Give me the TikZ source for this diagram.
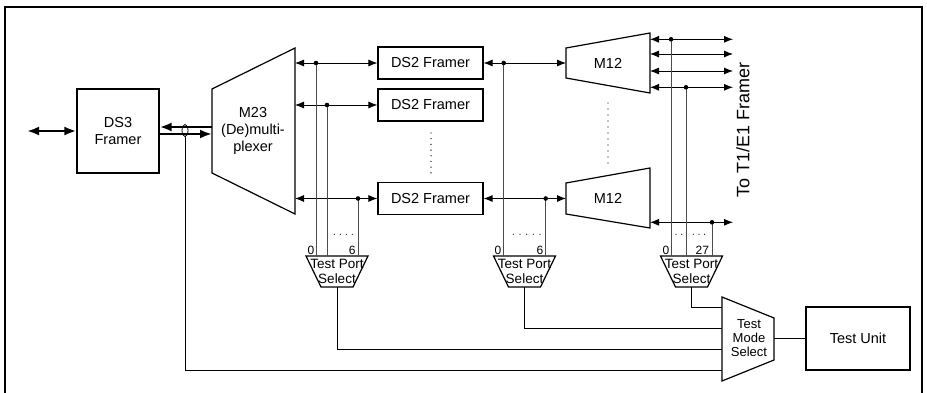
\documentclass[tikz,border=0pt]{standalone}
\usepackage{fontspec}
\setmainfont{Liberation Sans}
\usetikzlibrary{arrows.meta}

\tikzset{
  blk/.style={draw, line width=1.2pt, inner sep=0pt, align=center,
    font=\fontsize{14.5}{17}\selectfont},
  lnk/.style={line width=0.8pt},
  dbl/.style={lnk, {Latex[length=9pt,width=7pt]}-{Latex[length=9pt,width=7pt]}},
  fat/.style={line width=2.4pt},
  fattip/.style={-{Latex[length=12pt,width=9pt]}},
  tap/.style={line width=0.8pt, black!70},
  selfont/.style={align=center, inner sep=0pt, font=\fontsize{13.5}{14.4}\selectfont},
  num/.style={anchor=base, inner sep=0pt, font=\fontsize{12}{12}\selectfont},
}

\begin{document}
\begin{tikzpicture}[x=1pt,y=-1pt]
  \useasboundingbox (0,0) rectangle (927,393);

  \draw[line width=1.5pt] (5,393) -- (5,7) -- (922,7) -- (922,393);

  % boxes
  \node[blk, minimum width=82pt, minimum height=84pt] (ds3) at (118,131) {DS3\\Framer};
  \node[blk, minimum width=105pt, minimum height=32pt] (ds2a) at (430.5,63) {DS2 Framer};
  \node[blk, minimum width=105pt, minimum height=32pt] (ds2b) at (430.5,105) {DS2 Framer};
  \node[blk, minimum width=105pt, minimum height=32pt] (ds2c) at (430.5,198.5) {DS2 Framer};
  \node[blk, minimum width=104pt, minimum height=63pt] (tu) at (858,338.5) {Test Unit};

  % multiplexers
  \draw[line width=1.2pt] (212,89) coordinate (m23a) -- (295,48) coordinate (m23b)
    -- (295,214) -- (212,173) -- cycle;
  \node[blk, draw=none] (m23) at (253,131) {M23\\(De)multi-\\plexer};

  \draw[line width=1.2pt] (566,48) coordinate (m12a) -- (650,33) coordinate (m12ar)
    -- (650,93) -- (566,78) -- cycle;
  \node[blk, draw=none] (m12top) at (608,63) {M12};
  \draw[line width=1.2pt] (566,183) coordinate (m12b) -- (650,168) coordinate (m12br)
    -- (650,228) -- (566,214) -- cycle;
  \node[blk, draw=none] (m12bot) at (608,198) {M12};

  % test port selects
  \foreach \n/\cx in {1/337, 2/524.5, 3/691.5} {
    \draw[line width=1.2pt] (\cx-31,256) coordinate (tps\n) -- (\cx+31,256)
      -- (\cx+16,287) -- (\cx-16,287) -- cycle;
    \coordinate (tpsout\n) at (\cx,287);
    \node[selfont] (tpslbl\n) at (\cx,271.5) {Test Port\\Select};
  }

  \draw[line width=1.2pt] (722,297) coordinate (tms) -- (774,318) -- (774,360)
    -- (722,381) -- cycle;
  \coordinate (tmsout) at (774,338.5);
  \node[align=center, inner sep=0pt, font=\fontsize{13}{14}\selectfont] (tmslbl)
    at (749,338) {Test\\Mode\\Select};

  % DS3 side
  \draw[fat, {Latex[length=12pt,width=9pt]}-{Latex[length=12pt,width=9pt]}] (27,131) -- (ds3.west);
  \draw[fat, fattip] (m23a |- 0,127) -- (ds3.east |- 0,127);
  \draw[fat, fattip] (ds3.east |- 0,134) -- (m23a |- 0,134);
  \draw[lnk] (185,130.5) ellipse [x radius=3pt, y radius=6pt];
  \coordinate (bnd) at (185,136.5);

  % M23 to DS2 to M12
  \draw[dbl] (ds2a.west -| m23b) -- (ds2a.west);
  \draw[dbl] (ds2b.west -| m23b) -- (ds2b.west);
  \draw[dbl] (ds2c.west -| m23b) -- (ds2c.west);
  \draw[dbl] (ds2a.east) -- (ds2a.east -| m12a);
  \draw[dbl] (ds2c.east) -- (ds2c.east -| m12b);

  % to T1/E1
  \foreach \y in {39.3, 54, 71, 87.3}
    \draw[dbl] (m12ar |- 0,\y) -- (733,\y);
  \draw[dbl] (m12br |- 0,222.3) -- (733,222.3);
  \node[rotate=90, inner sep=0pt, font=\fontsize{18}{20}\selectfont] (t1e1) at (743,130) {To T1/E1 Framer};

  % taps
  \foreach \x/\y/\n in {316/63/1, 327/105/1, 358/198.5/1,
                        503.7/63/2, 545.7/198.5/2,
                        671/39.3/3, 686/87.3/3, 712/222.3/3} {
    \draw[tap] (\x,\y) -- (\x,256);
    \fill (\x,\y) circle [radius=2.3];
  }

  \node[num] at (311,254) {0};
  \node[num] at (352.3,254) {6};
  \node[num] at (498,254) {0};
  \node[num] at (540,254) {6};
  \node[num] at (666,254) {0};
  \node[num] at (702.3,254) {27};

  % dots
  \foreach \x in {334.3, 340.3, 346.3, 352.3, 513.3, 520, 526.7, 533.3, 540,
                  676, 681.7, 693.3, 699, 704.5}
    \fill (\x,234.3) circle [radius=0.6];
  \foreach \k in {0,...,7}
    \fill (431,133+\k*5.7) circle [radius=0.7];
  \foreach \k in {0,...,10}
    \fill (608,103+\k*6) circle [radius=0.7];

  % to test mode select
  \draw[lnk] (tpsout3) |- (tms |- 0,307.3);
  \draw[lnk] (tpsout2) |- (tms |- 0,328);
  \draw[lnk] (tpsout1) |- (tms |- 0,349.3);
  \draw[lnk] (bnd) |- (tms |- 0,370.3);
  \draw[lnk] (tmsout) -- (tu.west);
\end{tikzpicture}
\end{document}
